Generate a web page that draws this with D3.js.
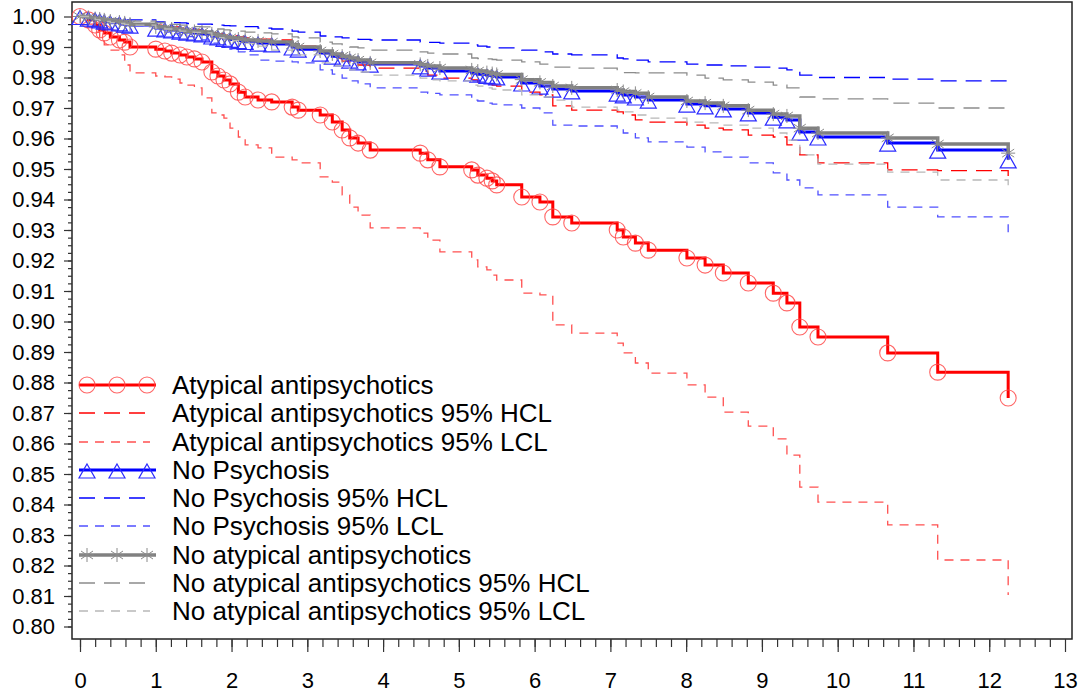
<!DOCTYPE html>
<html>
<head>
<meta charset="utf-8">
<script src="https://cdn.jsdelivr.net/npm/d3@7"></script>
<style>
  body { margin: 0; background: #fff; }
  text { font-family: Arial, "Liberation Sans", sans-serif; }
</style>
</head>
<body>
<svg id="chart" width="1084" height="694"></svg>
<script>
// follow-up time (years), shared by all curves
const years = [0, 0.11, 0.20, 0.26, 0.32, 0.40, 0.52, 0.59, 0.66, 1.00, 1.12, 1.21, 1.32, 1.41, 1.51, 1.61, 1.74, 1.82, 1.90, 1.98,
  2.09, 2.18, 2.35, 2.53, 2.80, 2.88, 3.17, 3.33, 3.46, 3.56, 3.67, 3.83, 4.49, 4.59, 4.75, 5.17, 5.25, 5.37, 5.44, 5.50,
  5.83, 6.07, 6.24, 6.49, 7.09, 7.17, 7.33, 7.50, 8.01, 8.25, 8.49, 8.82, 9.15, 9.33, 9.50, 9.74, 10.66, 11.32, 12.25];

const atypical = [1.0, .9989, .9972, .9956, .9946, .9933, .9923, .9916, .9900, .9893, .9887, .9880, .9874, .9867, .9861, .9851, .9818, .9805, .9792, .9779,
  .9752, .9736, .9726, .9720, .9703, .9693, .9677, .9654, .9628, .9602, .9585, .9562, .9552, .9530, .9507, .9497, .9480, .9470, .9461, .9448,
  .9408, .9392, .9343, .9323, .9300, .9277, .9257, .9234, .9208, .9185, .9159, .9126, .9093, .9061, .8982, .8949, .8897, .8834, .8749];
const atypicalHcl = [1.0, .9992, .9989, .9985, .9984, .9982, .9980, .9979, .9975, .9972, .9969, .9966, .9962, .9959, .9956, .9952, .9946, .9943, .9939, .9936,
  .9933, .9930, .9926, .9923, .9910, .9903, .9884, .9864, .9854, .9848, .9841, .9831, .9821, .9808, .9798, .9792, .9785, .9779, .9775, .9772,
  .9752, .9743, .9707, .9693, .9687, .9677, .9661, .9654, .9644, .9634, .9628, .9611, .9605, .9579, .9546, .9520, .9497, .9495, .9477];
const atypicalLcl = [1.0, .9975, .9949, .9930, .9907, .9890, .9874, .9841, .9815, .9805, .9802, .9795, .9782, .9775, .9766, .9733, .9684, .9677, .9667, .9634,
  .9605, .9579, .9569, .9539, .9530, .9520, .9474, .9457, .9415, .9375, .9349, .9307, .9290, .9267, .9228, .9202, .9179, .9169, .9152, .9136,
  .9093, .9087, .8989, .8962, .8929, .8897, .8864, .8831, .8792, .8752, .8703, .8657, .8615, .8562, .8457, .8408, .8333, .8218, .8103];

const noPsychosis = [1.0, .9995, .9992, .9989, .9985, .9982, .9979, .9975, .9972, .9962, .9959, .9956, .9952, .9949, .9946, .9943, .9936, .9933, .9928, .9925,
  .9921, .9918, .9913, .9910, .9900, .9893, .9880, .9870, .9864, .9857, .9851, .9844, .9838, .9831, .9821, .9815, .9811, .9807, .9805, .9802,
  .9782, .9772, .9762, .9756, .9749, .9743, .9736, .9726, .9713, .9707, .9697, .9684, .9670, .9661, .9621, .9605, .9585, .9562, .9530];
const noPsychosisHcl = [1.0, .9998, .9997, .9995, .9993, .9992, .9990, .9989, .9989, .9982, .9982, .9980, .9979, .9977, .9975, .9975, .9974, .9972, .9970, .9969,
  .9969, .9967, .9962, .9959, .9952, .9949, .9936, .9933, .9930, .9926, .9925, .9923, .9916, .9915, .9913, .9907, .9903, .9900, .9898, .9897,
  .9890, .9884, .9877, .9874, .9864, .9861, .9857, .9851, .9844, .9841, .9838, .9834, .9831, .9825, .9808, .9800, .9795, .9789, .9789];
const noPsychosisLcl = [1.0, .9993, .9989, .9985, .9982, .9977, .9972, .9970, .9969, .9956, .9949, .9944, .9939, .9934, .9930, .9923, .9913, .9907, .9900, .9893,
  .9884, .9874, .9857, .9854, .9851, .9848, .9825, .9811, .9798, .9789, .9779, .9766, .9752, .9748, .9743, .9726, .9723, .9716, .9713, .9710,
  .9700, .9684, .9644, .9641, .9634, .9618, .9602, .9589, .9572, .9556, .9539, .9520, .9487, .9464, .9438, .9415, .9375, .9343, .9293];

const noAtypical = [1.0, .9997, .9993, .9992, .9989, .9985, .9982, .9979, .9975, .9966, .9962, .9959, .9956, .9952, .9951, .9949, .9943, .9938, .9933, .9930,
  .9926, .9923, .9920, .9916, .9907, .9900, .9887, .9877, .9870, .9864, .9857, .9848, .9843, .9838, .9831, .9825, .9821, .9816, .9813, .9810,
  .9793, .9784, .9772, .9766, .9759, .9754, .9748, .9736, .9723, .9716, .9707, .9693, .9680, .9674, .9634, .9618, .9602, .9582, .9552];
const noAtypicalHcl = [1.0, .9998, .9997, .9995, .9993, .9992, .9989, .9987, .9985, .9979, .9975, .9974, .9972, .9969, .9967, .9966, .9962, .9959, .9956, .9954,
  .9952, .9949, .9946, .9943, .9933, .9930, .9916, .9910, .9903, .9900, .9897, .9890, .9884, .9880, .9877, .9864, .9862, .9861, .9859, .9857,
  .9851, .9844, .9834, .9831, .9818, .9816, .9815, .9815, .9808, .9798, .9792, .9785, .9775, .9766, .9736, .9730, .9716, .9700, .9700];
const noAtypicalLcl = [1.0, .9995, .9990, .9987, .9984, .9980, .9977, .9974, .9972, .9962, .9959, .9956, .9952, .9949, .9948, .9946, .9936, .9931, .9926, .9921,
  .9916, .9913, .9903, .9890, .9877, .9874, .9848, .9838, .9831, .9825, .9818, .9808, .9798, .9792, .9789, .9775, .9772, .9766, .9762, .9759,
  .9743, .9736, .9726, .9703, .9693, .9687, .9677, .9667, .9654, .9651, .9644, .9634, .9618, .9595, .9546, .9516, .9490, .9464, .9425];

const xTickValues = d3.range(0, 14);
const yTickValues = d3.range(80, 101).map(d => d / 100);

const series = [
  { label: "Atypical antipsychotics",            values: atypical,       color: "#ff0000", width: 3,    dash: null,   marker: "circle" },
  { label: "Atypical antipsychotics 95% HCL",    values: atypicalHcl,    color: "#ff0000", width: 1.3,  dash: "16,9", marker: null },
  { label: "Atypical antipsychotics 95% LCL",    values: atypicalLcl,    color: "#ff5050", width: 1.3,  dash: "9,7",  marker: null },
  { label: "No Psychosis",                       values: noPsychosis,    color: "#0000ff", width: 3,    dash: null,   marker: "triangle" },
  { label: "No Psychosis 95% HCL",               values: noPsychosisHcl, color: "#0000ff", width: 1.3,  dash: "16,9", marker: null },
  { label: "No Psychosis 95% LCL",               values: noPsychosisLcl, color: "#5050ff", width: 1.3,  dash: "9,7",  marker: null },
  { label: "No atypical antipsychotics",         values: noAtypical,     color: "#808080", width: 3.5,  dash: null,   marker: "star" },
  { label: "No atypical antipsychotics 95% HCL", values: noAtypicalHcl,  color: "#8c8c8c", width: 1.3,  dash: "16,9", marker: null },
  { label: "No atypical antipsychotics 95% LCL", values: noAtypicalLcl,  color: "#b8b8b8", width: 1.3,  dash: "9,7",  marker: null }
];

const svg = d3.select("#chart");
const frame = { left: 72, top: 2, right: 1072, bottom: 639 };

const x = d3.scaleLinear().domain([0, 13]).range([80, 1065]);
const y = d3.scaleLinear().domain([0.80, 1.00]).range([626.5, 16.5]);

// markers
const markerPath = {
  triangle: "M0,-6L8,8L-8,8Z",
  star: "M0,-7V7M-6,-4L6,4M-6,4L6,-4M-7,0H7"
};
const drawMarker = (g, kind, px, py) => {
  if (kind === "circle") {
    g.append("circle").attr("cx", px).attr("cy", py).attr("r", 8)
      .attr("fill", "none").attr("stroke", "#ff4a4a").attr("stroke-width", 1.1).attr("opacity", 0.85);
  } else if (kind === "triangle") {
    g.append("path").attr("transform", `translate(${px},${py})`).attr("d", markerPath.triangle)
      .attr("fill", "none").attr("stroke", "#2b2bff").attr("stroke-width", 1.2);
  } else if (kind === "star") {
    g.append("path").attr("transform", `translate(${px},${py})`).attr("d", markerPath.star)
      .attr("fill", "none").attr("stroke", "#8a8a8a").attr("stroke-width", 1);
  }
};

// frame
svg.append("rect")
  .attr("x", frame.left).attr("y", frame.top)
  .attr("width", frame.right - frame.left).attr("height", frame.bottom - frame.top)
  .attr("fill", "none").attr("stroke", "#222").attr("stroke-width", 1.5);

// y axis
svg.append("g").attr("transform", `translate(${frame.left},0)`)
  .call(d3.axisLeft(y).tickValues(yTickValues).tickSize(8).tickPadding(9).tickFormat(d3.format(".2f")));
svg.append("g").attr("transform", `translate(${frame.left},0)`)
  .call(d3.axisLeft(y).tickValues(d3.range(800, 1000, 2.5).map(d => d / 1000)).tickSize(4).tickFormat(""));

// x axis
svg.append("g").attr("transform", `translate(0,${frame.bottom})`)
  .call(d3.axisBottom(x).tickValues(xTickValues).tickSize(13).tickPadding(20).tickFormat(d3.format("d")));
svg.append("g").attr("transform", `translate(0,${frame.bottom})`)
  .call(d3.axisBottom(x).tickValues(d3.range(0, 65).map(d => d / 5)).tickSize(8).tickFormat(""));

svg.selectAll(".domain").remove();
svg.selectAll(".tick line").attr("stroke", "#333").attr("stroke-width", 1.2);
svg.selectAll(".tick text").attr("font-size", 22).attr("fill", "#000")
  .attr("font-family", "Arial, 'Liberation Sans', sans-serif");

// curves
const line = d3.line()
  .x((d, i) => x(years[i]))
  .y(d => y(d))
  .curve(d3.curveStepAfter);

series.forEach(s => {
  const g = svg.append("g");
  g.append("path")
    .attr("d", line(s.values))
    .attr("fill", "none")
    .attr("stroke", s.color)
    .attr("stroke-width", s.width)
    .attr("stroke-dasharray", s.dash);
  if (s.marker) {
    s.values.forEach((v, i) => drawMarker(g, s.marker, x(years[i]), y(v)));
  }
});

// legend
const legend = svg.append("g");
series.forEach((s, i) => {
  const ly = Math.round(385 + i * 28.25);
  const row = legend.append("g");
  row.append("line")
    .attr("x1", 79).attr("x2", s.dash ? 150 : 156)
    .attr("y1", ly).attr("y2", ly)
    .attr("stroke", s.color)
    .attr("stroke-width", s.width)
    .attr("stroke-dasharray", s.dash);
  if (s.marker) {
    [87, 117, 147].forEach(mx => drawMarker(row, s.marker, mx, ly));
  }
  row.append("text")
    .attr("x", 172).attr("y", ly).attr("dy", "0.36em")
    .attr("font-size", 26)
    .text(s.label);
});
</script>
</body>
</html>
